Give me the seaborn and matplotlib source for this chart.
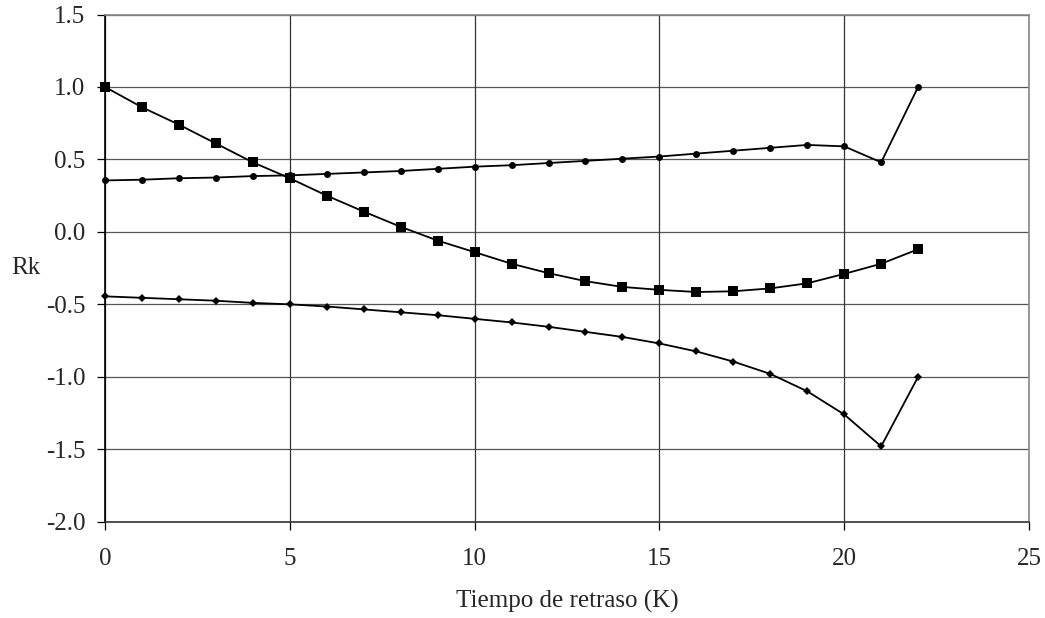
import numpy as np
import pandas as pd
import matplotlib
matplotlib.use('Agg')
import matplotlib.pyplot as plt
import seaborn as sns

# retrasos k = 0..22
lags = list(range(23))

# serie con cuadrados
rk_cuadrados = [1.00, 0.86, 0.74, 0.61, 0.48, 0.37, 0.25, 0.14, 0.035, -0.06,
                -0.14, -0.22, -0.285, -0.34, -0.38, -0.40, -0.415, -0.41, -0.39,
                -0.355, -0.29, -0.22, -0.12]

# serie superior (circulos)
rk_superior = [0.355, 0.36, 0.37, 0.375, 0.385, 0.39, 0.40, 0.41, 0.42, 0.435,
               0.45, 0.46, 0.475, 0.49, 0.505, 0.52, 0.54, 0.56, 0.58, 0.60,
               0.59, 0.48, 1.00]

# serie inferior (rombos)
rk_inferior = [-0.445, -0.455, -0.465, -0.475, -0.49, -0.50, -0.515, -0.535,
               -0.555, -0.575, -0.60, -0.625, -0.655, -0.69, -0.725, -0.77,
               -0.825, -0.895, -0.98, -1.10, -1.26, -1.48, -1.00]

x_ticks = [0, 5, 10, 15, 20, 25]
y_ticks = [-2.0, -1.5, -1.0, -0.5, 0.0, 0.5, 1.0, 1.5]

df_cua = pd.DataFrame({'k': lags, 'rk': rk_cuadrados})
df_sup = pd.DataFrame({'k': lags, 'rk': rk_superior})
df_inf = pd.DataFrame({'k': lags, 'rk': rk_inferior})

sns.set_style('white')
plt.rcParams['font.family'] = ['Liberation Serif', 'DejaVu Serif']

fig = plt.figure(figsize=(10.45, 6.18), dpi=100)
ax = fig.add_axes([105 / 1045, 1 - 521.7 / 618, 924 / 1045, 507.2 / 618])

# rejilla
for yv in y_ticks:
    ax.axhline(yv, color='#555555', lw=0.9, zorder=0)
for xv in x_ticks:
    ax.axvline(xv, color='#333333', lw=0.9, zorder=0)

sns.lineplot(data=df_cua, x='k', y='rk', ax=ax, color='black', lw=1.3,
             marker='s', markersize=7.5, markeredgewidth=0, zorder=3, clip_on=False)
sns.lineplot(data=df_sup, x='k', y='rk', ax=ax, color='black', lw=1.3,
             marker='o', markersize=5, markeredgewidth=0, zorder=3, clip_on=False)
sns.lineplot(data=df_inf, x='k', y='rk', ax=ax, color='black', lw=1.3,
             marker='D', markersize=4.5, markeredgewidth=0, zorder=3, clip_on=False)

ax.set_xlim(0, 25)
ax.set_ylim(-2.0, 1.5)
ax.set_xticks(x_ticks)
ax.set_yticks(y_ticks)
ax.set_yticklabels([f'{v:.1f}' for v in y_ticks])
ax.tick_params(axis='both', labelsize=18, direction='out', length=6, width=0.9,
               color='black', left=True, bottom=True)
ax.tick_params(axis='y', pad=8)
ax.tick_params(axis='x', pad=13)

for side in ['top', 'right']:
    ax.spines[side].set_color('#888888')
    ax.spines[side].set_linewidth(1.2)
ax.spines['left'].set_color('black')
ax.spines['bottom'].set_color('#333333')
for side in ['left', 'bottom']:
    ax.spines[side].set_linewidth(1.2)

ax.set_xlabel('Tiempo de retraso (K)', fontsize=18, labelpad=14)
ax.set_ylabel('Rk', fontsize=18, rotation=0, ha='center', va='center')
ax.yaxis.set_label_coords(-0.086, 0.5)

fig.savefig('out.png', dpi=100)
